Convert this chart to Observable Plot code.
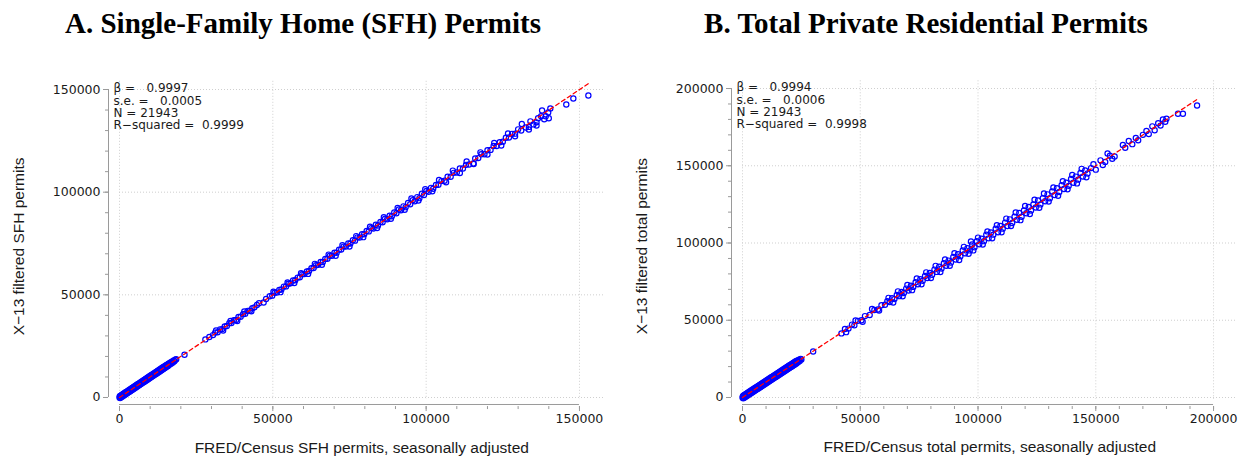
<!DOCTYPE html>
<html><head><meta charset="utf-8">
<script src="https://cdn.jsdelivr.net/npm/d3@7"></script>
<script src="https://cdn.jsdelivr.net/npm/@observablehq/plot@0.6"></script>
<style>
html,body{margin:0;padding:0;background:#fff;}
#wrap{display:flex;width:1246px;height:460px;overflow:hidden;}
.panel{width:623px;height:460px;position:relative;}
.title{position:absolute;left:303px;top:9px;transform:translateX(-50%);font-family:"Liberation Serif",serif;font-weight:bold;font-size:29px;line-height:1;white-space:nowrap;color:#000;}
.panel svg{position:absolute;left:0;top:60px;}
</style></head>
<body><div id="wrap"></div>
<script>
// ---------- Panel A: Single-family home permits ----------
const titleA = "A. Single-Family Home (SFH) Permits";
const xLabelA = "FRED/Census SFH permits, seasonally adjusted";
const yLabelA = "X\u221213 filtered SFH permits";
const statsA = ["\u03b2 =\u00a0\u00a0 0.9997", "s.e. =\u00a0\u00a0 0.0005", "N = 21943", "R\u2212squared =\u00a0 0.9999"];
const xTicksA = [0, 50000, 100000, 150000];
const yTicksA = [0, 50000, 100000, 150000];
const minorA = [0,10000,20000,30000,40000,50000,60000,70000,80000,90000,100000,110000,120000,130000,140000,150000];
const fitXA = [0, 153000];
const fitYA = [0, 152950];
// [FRED/Census, X-13 filtered]
const pointsA = [
[0,0],[100,600],[200,-300],[400,900],[500,100],[700,1200],[800,400],[1000,1500],[1100,700],[1300,1800],[1400,1000],[1600,2100],[1700,1300],[1900,2400],[2000,1600],[2200,2700],[2300,1900],[2500,3000],[2600,2200],[2800,3300],[2900,2500],[3100,3600],[3200,2800],[3400,3900],[3500,3100],[3700,4200],[3800,3400],[4000,4500],[4100,3700],[4300,4800],[4400,4000],[4600,5100],[4700,4300],[4900,5400],[5000,4600],[5200,5700],[5300,4900],[5500,6000],[5600,5200],[5800,6300],[5900,5500],[6100,6600],[6200,5800],[6400,6900],[6500,6100],[6700,7200],[6800,6400],[7000,7500],[7100,6700],[7300,7800],[7400,7000],[7600,8100],[7700,7300],[7900,8400],[8000,7600],[8200,8700],[8300,7900],[8500,9000],[8600,8200],[8800,9300],[8900,8500],[9100,9600],[9200,8800],[9400,9900],[9500,9100],[9700,10200],[9800,9400],[10000,10500],[10100,9700],[10300,10800],[10400,10000],[10600,11100],[10700,10300],[10900,11400],[11000,10600],[11200,11700],[11300,10900],[11500,12000],[11600,11200],[11800,12300],[11900,11500],[12100,12600],[12200,11800],[12400,12900],[12500,12100],[12700,13200],[12800,12400],[13000,13500],[13100,12700],[13300,13800],[13400,13000],[13600,14100],[13700,13300],[13900,14400],[14000,13600],[14200,14700],[14300,13900],[14500,15000],[14600,14200],[14800,15300],[14900,14500],[15100,15600],[15200,14800],[15400,15900],[15500,15100],[15700,16100],[15800,15400],[16000,16400],[16100,15800],[16400,16800],[16500,16200],[16800,17200],[16900,16600],[17200,17500],[17400,17100],[17700,18000],[17900,17700],[18200,18400],[18500,18600],
[21200,20800],[28000,28300],[29300,29500],
[30500,30400],[31200,31600],[32000,31800],[32800,33200],[33500,33300],[34300,34600],[35000,34800],[35800,36200],[36500,36300],[37300,37600],[38000,37800],[38800,39200],[39500,39300],[40300,40600],[41000,40800],[41800,42200],[42500,42300],[43300,43500],[44000,43900],[44800,45100],[47000,46300],[47800,48000],
[49000,49300],[49800,49600],[50600,51000],[51300,51100],[52100,52400],[52800,52600],[53600,54000],[54300,54100],[55100,55400],[55800,55600],[56600,57000],[57300,57100],[58100,58400],[58800,58600],[59600,60000],[60300,60100],[61100,61400],[61800,61600],[62600,63000],[63300,63100],[64100,64400],[64800,64600],[65600,66000],[66300,66000],[67100,67500],[67800,67600],[68600,69000],[69300,69000],[70100,70500],[70800,70500],[71600,72000],[72300,72100],[73100,73500],[73800,73500],[74600,75000],[75300,75000],[76100,76600],[76800,76400],[77600,78000],[78300,77900],[79100,79500],[79800,79500],[80600,81100],[81300,80900],[82100,82500],[82800,82300],[83600,84100],[84300,83800],[85100,85500],[85800,85300],[86600,87100],[87300,86800],[88100,88500],[88800,88300],[89600,90100],[90300,89700],[91100,91600],[91800,91200],[92600,93100],[93300,92700],[94100,94700],[94800,94100],[95600,96100],[96300,95600],[97100,97600],[97800,97100],[98600,99200],[99300,98600],[100100,100600],[100800,100200],[101600,102100],[102300,101700],[103200,103500],[104000,103600],[105000,105400],[106000,105600],[107000,107500],[108000,107500],[109000,109400],[110000,109600],[111000,111500],[112000,111500],[113000,113300],[114000,113500],[115400,114000],[116000,116400],[117000,116600],[118000,118500],[119000,118500],[120000,120400],[121000,120600],[122000,122500],[123000,122500],[124000,124300],[125000,124600],[126000,126500],[127000,126600],[128000,128400],[129000,128500],[130000,130600],[131000,130000],[132500,131500],[133500,131800],[134000,134500],[135000,133000],[136000,132500],[136500,136000],[137500,137000],[138500,135500],[139000,137000],[139800,138800],[140000,136000],[140500,140800],[145700,142700],[148000,145600],[152900,147100],
[31500,32600],[33800,32600],[36200,37300],[38400,37200],[40700,41900],[43000,42000],[45500,45900],
[50200,51500],[52500,51300],[54800,56000],[57000,55800],[59200,60500],[61500,60200],[63700,65100],[66000,64600],[68200,69600],[70500,69000],[72700,74200],[75000,73500],[77200,78600],[79500,78100],[81700,83200],[84000,82500],[86200,87800],[88500,87000],[90700,92300],[93000,91400],[95200,96900],[97500,95900],[99700,101400],[102000,100400],[104200,105900],[106500,104800],[108700,110500],[111000,109300],[113200,115000],[115500,113700],[117700,119400],[120000,118300],[122200,124000],[124500,122700],[126700,128600],[129000,127200],[131200,133200],[133500,130500],[136000,134000],[137800,139800]
];

// ---------- Panel B: Total private residential permits ----------
const titleB = "B. Total Private Residential Permits";
const xLabelB = "FRED/Census total permits, seasonally adjusted";
const yLabelB = "X\u221213 filtered total permits";
const statsB = ["\u03b2 =\u00a0\u00a0 0.9994", "s.e. =\u00a0\u00a0 0.0006", "N = 21943", "R\u2212squared =\u00a0 0.9998"];
const xTicksB = [0, 50000, 100000, 150000, 200000];
const yTicksB = [0, 50000, 100000, 150000, 200000];
const minorB = [0,10000,20000,30000,40000,50000,60000,70000,80000,90000,100000,110000,120000,130000,140000,150000,160000,170000,180000,190000,200000];
const fitXB = [0, 193000];
const fitYB = [0, 192900];
const pointsB = [
[0,0],[200,900],[300,-500],[500,1300],[700,-100],[900,1700],[1100,300],[1300,2100],[1500,700],[1700,2500],[1900,1100],[2100,2900],[2300,1500],[2500,3300],[2700,1900],[2900,3700],[3100,2300],[3300,4100],[3500,2700],[3700,4500],[3900,3100],[4100,4900],[4300,3500],[4500,5300],[4700,3900],[4900,5700],[5100,4300],[5300,6100],[5500,4700],[5700,6500],[5900,5100],[6100,6900],[6300,5500],[6500,7300],[6700,5900],[6900,7700],[7100,6300],[7300,8100],[7500,6700],[7700,8500],[7900,7100],[8100,8900],[8300,7500],[8500,9300],[8700,7900],[8900,9700],[9100,8300],[9300,10100],[9500,8700],[9700,10500],[9900,9100],[10100,10900],[10300,9500],[10500,11300],[10700,9900],[10900,11700],[11100,10300],[11300,12100],[11500,10700],[11700,12500],[11900,11100],[12100,12900],[12300,11500],[12500,13300],[12700,11900],[12900,13700],[13100,12300],[13300,14100],[13500,12700],[13700,14500],[13900,13100],[14100,14900],[14300,13500],[14500,15300],[14700,13900],[14900,15700],[15100,14300],[15300,16100],[15500,14700],[15700,16500],[15900,15100],[16100,16900],[16300,15500],[16500,17300],[16700,15900],[16900,17700],[17100,16300],[17300,18100],[17500,16700],[17700,18500],[17900,17100],[18100,18900],[18300,17500],[18500,19300],[18700,17900],[18900,19700],[19100,18300],[19300,20100],[19500,18700],[19700,20500],[19900,19100],[20100,20900],[20300,19500],[20500,21300],[20700,19900],[20900,21700],[21100,20300],[21300,22100],[21500,20700],[21700,22500],[21900,21100],[22100,22900],[22300,21500],[22500,23300],[22700,21900],[22900,23600],[23100,22400],[23400,24000],[23700,23000],[24000,24500],[24300,23700],[24700,25000],[25000,24600],
[30000,29800],
[42000,41500],[43500,44300],[45000,44600],[46500,47200],[47500,46800],[49000,49600],[50500,50000],[52000,52700],[54000,53400],[56000,56600],[57500,57000],[59000,59700],[60500,60000],[61500,62300],[62500,61800],[63500,64200],[64500,63700],[65500,66400],[66500,65600],[67500,68300],[68500,67600],[69500,70500],[70500,69300],[71500,72400],[72500,71600],[73500,74600],[74500,73300],[75500,76500],[76500,75600],[77500,78700],[78500,77300],[79500,80600],[80500,79500],[81500,82800],[82500,81300],[83500,84600],[84500,83500],[85500,86900],[86500,85300],[87500,88600],[88500,87400],[89500,91000],[90500,89300],[91500,92700],[92500,91400],[93500,95200],[94500,93300],[95500,96600],[96500,95200],[97500,99000],[98500,97300],[99500,101200],[100500,99200],[101500,102800],[102500,101200],[103500,105300],[104500,103000],[105500,106800],[106500,105400],[107500,109200],[108500,107000],[109500,111000],[110500,109300],[111500,113200],[112500,111000],[113500,115300],[114500,113000],[115500,117000],[116500,115000],[117500,119500],[118500,117000],[119500,121000],[120500,119300],[121500,123300],[122500,121000],[123500,125000],[124500,123000],[125500,127500],[126500,125000],[127500,129000],[128500,127000],[129500,131500],[130500,129000],[131500,133300],[132500,131000],[133500,135500],[134500,133000],[135500,137500],[136500,135000],[137500,139000],[138500,137000],[139500,141500],[140500,139000],[141500,143000],[142500,141000],[143500,145300],[144500,143000],[145500,147000],[146500,145000],[148000,148500],[150000,147500],[152000,153500],[154000,152500],[156000,156500],[158000,156000],
[161500,163500],[162500,161700],[164000,166000],[165500,164000],[167000,168000],[168000,166500],
[170000,170000],[171500,172500],[172500,170500],[174000,175500],[175000,173000],[176500,177500],[177500,176000],[178500,180000],[179500,178500],[180000,180500],
[184900,183700],[187000,183700],[193000,189000],
[44000,42300],[48000,49900],[51000,49000],[55000,57300],[58000,56300],[62000,64500],[64000,61500],[66000,68700],[68000,65500],[70000,72800],[72000,69500],[74000,77000],[76000,73300],[78000,81000],[80000,77300],[82000,85200],[84000,81200],[86000,89300],[88000,85200],[90000,93400],[92000,89000],[94000,97500],[96000,93000],[97000,101000],[98000,95200],[100000,103500],[102000,99000],[104000,107500],[106000,103000],[108000,111500],[110000,107000],[112000,115800],[114000,111000],[116000,119800],[118000,114800],[120000,124000],[122000,118800],[124000,128000],[126000,122800],[128000,132000],[130000,126800],[132000,136000],[134000,130600],[136000,140000],[138000,134800],[140000,144000],[142000,138600],[144000,148000],[146000,142500],[149000,151000],[153000,150500],[155000,158000],[157000,154500]
];

const axisColor = "#9a9a9a";
const gridColor = "#cfcfcf";
const textColor = "#1a1a1a";

function panel(cfg) {
  const pts = cfg.points.map(([x, y]) => ({x, y}));
  const fit = cfg.fitX.map((x, i) => ({x, y: cfg.fitY[i]}));
  const stats = cfg.stats.map((t, i) => ({t, i}));
  const xT = cfg.xTicks, yT = cfg.yTicks;
  const fmt = d => String(d);
  const yTop = yT[yT.length - 1];
  return Plot.plot({
    width: 623, height: 400,
    marginLeft: 119, marginRight: cfg.marginRight, marginTop: cfg.marginTop, marginBottom: cfg.marginBottom,
    style: {fontFamily: "DejaVu Sans", fontSize: "12.5px", color: textColor, background: "#fff", overflow: "visible"},
    x: {domain: cfg.xDomain},
    y: {domain: cfg.yDomain},
    marks: [
      Plot.gridX(xT, {stroke: gridColor, strokeOpacity: 1, strokeDasharray: "1,2"}),
      Plot.gridY(yT, {stroke: gridColor, strokeOpacity: 1, strokeDasharray: "1,2"}),
      Plot.ruleY([{y: 0, x1: xT[0], x2: xT[xT.length - 1]}], {y: "y", x1: "x1", x2: "x2", stroke: axisColor, dy: 7}),
      Plot.ruleX([{x: 0, y1: yT[0], y2: yTop}], {x: "x", y1: "y1", y2: "y2", stroke: axisColor, dx: -11}),
      Plot.axisX({ticks: cfg.minor, tickSize: 3, dy: 7, stroke: axisColor, fill: "none", label: null, tickFormat: fmt}),
      Plot.axisX({ticks: xT, tickSize: 5, tickPadding: 3, dy: 7, stroke: axisColor, fill: textColor, label: null, tickFormat: fmt}),
      Plot.axisY({ticks: cfg.minor, tickSize: 3, dx: -11, stroke: axisColor, fill: "none", label: null, tickFormat: fmt}),
      Plot.axisY({ticks: yT, tickSize: 5, tickPadding: 3, dx: -11, stroke: axisColor, fill: textColor, label: null, tickFormat: fmt}),
      Plot.dot(pts, {x: "x", y: "y", r: 2.6, stroke: "#0000ff", strokeWidth: 1.2, fill: "none"}),
      Plot.line(fit, {x: "x", y: "y", stroke: "#ff0000", strokeWidth: 1.3, strokeDasharray: "4,3"}),
      ...stats.map(s => Plot.text([{x: 0, y: yTop, t: s.t}], {x: "x", y: "y", text: "t", textAnchor: "start", lineAnchor: "middle", dx: -6, dy: -1 + 12.3 * s.i, fontSize: 12, fill: textColor})),
      Plot.text([cfg.xLabel], {frameAnchor: "bottom", lineAnchor: "middle", dy: 48, fontSize: 15.5, fontFamily: "Liberation Sans", fill: textColor}),
      Plot.text([cfg.yLabel], {frameAnchor: "left", textAnchor: "middle", lineAnchor: "middle", rotate: -90, dx: -100, dy: 6, fontSize: 15.5, fontFamily: "Liberation Sans", fill: textColor})
    ]
  });
}

const wrap = document.getElementById("wrap");
function addPanel(title, svg) {
  const p = document.createElement("div");
  p.className = "panel";
  const t = document.createElement("div");
  t.className = "title";
  t.textContent = title;
  p.appendChild(t);
  p.appendChild(svg);
  wrap.appendChild(p);
}

addPanel(titleA, panel({
  points: pointsA, fitX: fitXA, fitY: fitYA, xTicks: xTicksA, yTicks: yTicksA, minor: minorA,
  stats: statsA, xLabel: xLabelA, yLabel: yLabelA,
  xDomain: [0, 158000], yDomain: [-1000, 154000],
  marginRight: 19.5, marginTop: 20.8, marginBottom: 60.95
}));
addPanel(titleB, panel({
  points: pointsB, fitX: fitXB, fitY: fitYB, xTicks: xTicksB, yTicks: yTicksB, minor: minorB,
  stats: statsB, xLabel: xLabelB, yLabel: yLabelB,
  xDomain: [0, 210000], yDomain: [-1300, 205000],
  marginRight: 9.4, marginTop: 20.3, marginBottom: 61
}));
</script></body></html>
